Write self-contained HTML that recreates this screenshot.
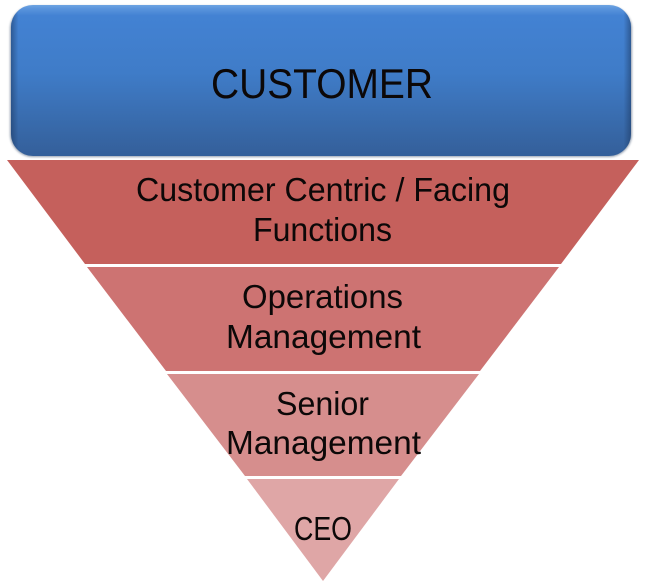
<!DOCTYPE html>
<html>
<head>
<meta charset="utf-8">
<style>
html,body{margin:0;padding:0;background:#fff;width:646px;height:588px;overflow:hidden}
svg{display:block}
text{font-family:"Liberation Sans",sans-serif;fill:#0c0808}
</style>
</head>
<body>
<svg width="646" height="588" viewBox="0 0 646 588" xmlns="http://www.w3.org/2000/svg">
<defs>
<linearGradient id="blue" x1="0" y1="0" x2="0" y2="1">
<stop offset="0" stop-color="#6ea4e2"/>
<stop offset="0.025" stop-color="#5a94dc"/>
<stop offset="0.07" stop-color="#4382d3"/>
<stop offset="0.45" stop-color="#3f7cc8"/>
<stop offset="0.85" stop-color="#3767a6"/>
<stop offset="1" stop-color="#345f9a"/>
</linearGradient>
<linearGradient id="edge" x1="0" y1="0" x2="1" y2="0">
<stop offset="0" stop-color="#1d3a63" stop-opacity="0.55"/>
<stop offset="0.012" stop-color="#1d3a63" stop-opacity="0"/>
<stop offset="0.988" stop-color="#1d3a63" stop-opacity="0"/>
<stop offset="1" stop-color="#1d3a63" stop-opacity="0.55"/>
</linearGradient>
<filter id="soft" x="-5%" y="-10%" width="110%" height="120%"><feGaussianBlur stdDeviation="1"/></filter>
</defs>
<rect x="10" y="6" width="622" height="151" rx="23" fill="#6f7f94" filter="url(#soft)" opacity="0.75"/>
<rect x="11" y="5" width="620" height="151" rx="22" fill="url(#blue)"/>
<rect x="11" y="5" width="620" height="151" rx="22" fill="url(#edge)"/>
<polygon points="7,160 639,160 561,264 85,264" fill="#c5605c"/>
<polygon points="87,267 559,267 480,371 166,371" fill="#cd7372"/>
<polygon points="167,374 479,374 401,476 245,476" fill="#d68e8d"/>
<polygon points="247,479 399,479 323,581" fill="#dfa6a6"/>
<text x="322" y="98" font-size="42" text-anchor="middle" textLength="222" lengthAdjust="spacingAndGlyphs">CUSTOMER</text>
<g font-size="33" text-anchor="middle">
<text x="323" y="201" textLength="374" lengthAdjust="spacingAndGlyphs">Customer Centric / Facing</text>
<text x="322.5" y="241" textLength="139" lengthAdjust="spacingAndGlyphs">Functions</text>
<text x="322.5" y="308" textLength="161" lengthAdjust="spacingAndGlyphs">Operations</text>
<text x="323.5" y="348" textLength="195" lengthAdjust="spacingAndGlyphs">Management</text>
<text x="322.5" y="415" textLength="93" lengthAdjust="spacingAndGlyphs">Senior</text>
<text x="323.5" y="454" textLength="195" lengthAdjust="spacingAndGlyphs">Management</text>
<text x="323" y="540" textLength="58" lengthAdjust="spacingAndGlyphs">CEO</text>
</g>
</svg>
</body>
</html>
